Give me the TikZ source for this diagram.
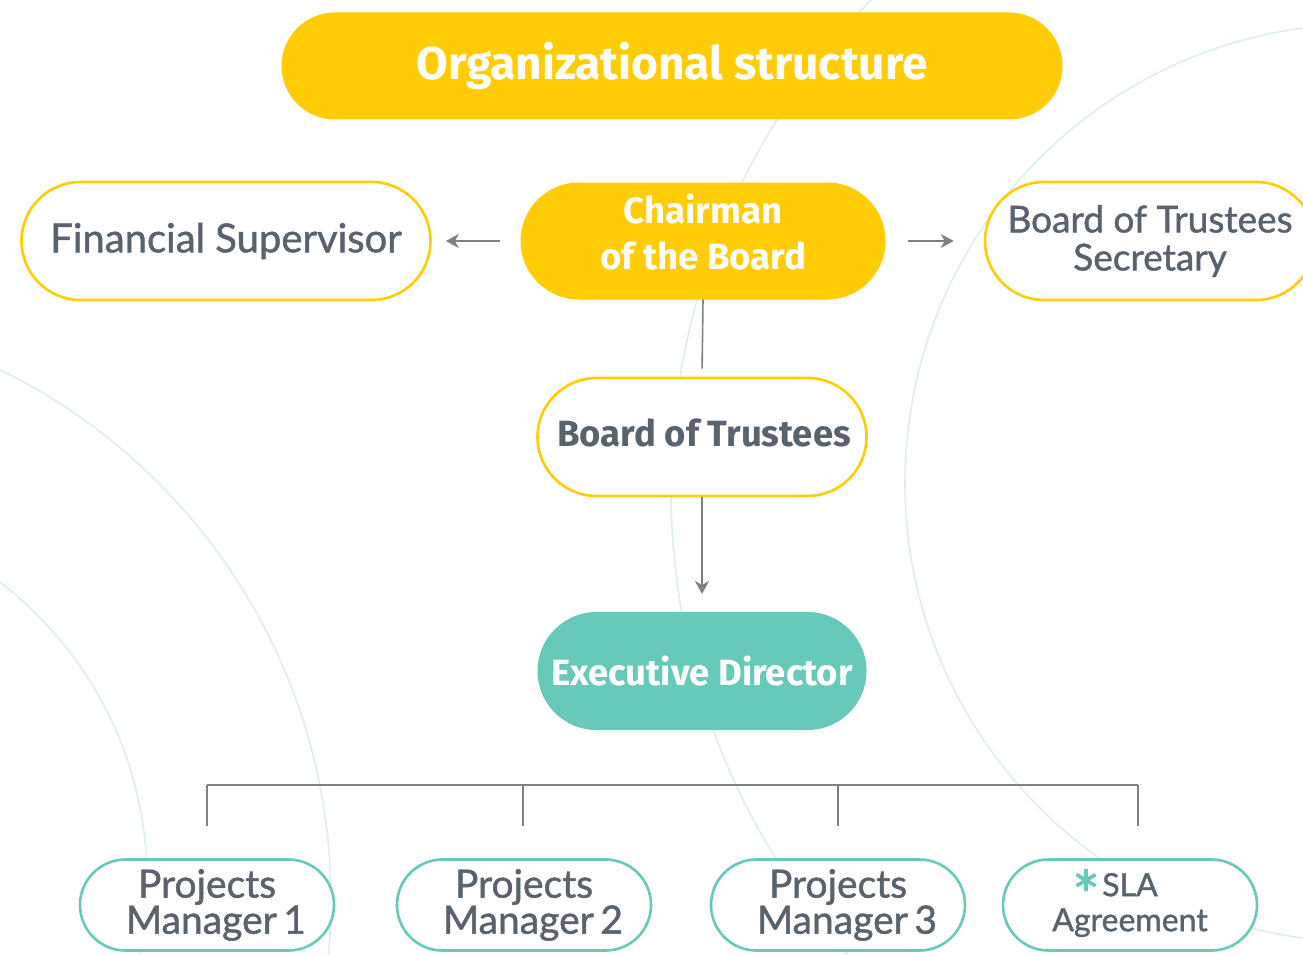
\documentclass[tikz,border=0pt]{standalone}
\usepackage{fontspec}
\setmainfont{Lato}[FakeBold=1.2]
\newfontfamily\fira{Fira Sans}
\usetikzlibrary{shapes.misc,arrows.meta}
\definecolor{ylw}{HTML}{FFCC05}
\definecolor{tealc}{HTML}{67C9B9}
\definecolor{txtg}{HTML}{58636E}
\definecolor{lineg}{HTML}{808080}
\definecolor{arcc}{HTML}{DAF1EB}
\tikzset{
  pill/.style={rounded rectangle, inner sep=0pt, align=center},
  yfill/.style={pill, fill=ylw, draw=ylw, line width=1pt, text=white},
  yline/.style={pill, fill=white, draw=ylw, line width=2.6pt, text=txtg},
  tfill/.style={pill, fill=tealc, draw=tealc, line width=1pt, text=white},
  tline/.style={pill, fill=white, draw=tealc, line width=2.6pt, text=txtg,
    minimum width=254pt, minimum height=91pt},
  bold/.style={font=\fira\bfseries\fontsize{36.5}{46}\selectfont},
  conn/.style={draw=lineg, line width=1.6pt},
  arr/.style={conn, -{Stealth[length=13pt,width=14pt,inset=4pt]}},
  bgarc/.style={draw=arcc, line width=1.6pt}
}
\begin{document}
\begin{tikzpicture}[x=1pt,y=-1pt]
\useasboundingbox (0,0) rectangle (1303,955);
\fill[white] (0,0) rectangle (1303,955);
\begin{scope}
  \clip (0,0) rectangle (1303,955);
  \draw[bgarc] (1364,483) circle[radius=459pt];
  \draw[bgarc] (1371,490) circle[radius=700pt];
  \draw[bgarc] (-259,900) circle[radius=590pt];
  \draw[bgarc] (-228,880) circle[radius=375pt];
\end{scope}

\node[yfill, minimum width=780pt, minimum height=106pt,
  font=\fira\bfseries\fontsize{46}{50}\selectfont] (title) at (672,66) {Organizational structure};

\node[yfill, minimum width=364pt, minimum height=116pt] (chair) at (703,241) {};
\node[bold, text=white, align=center, inner sep=0pt] (chairtxt) at (703,232) {Chairman\\of the Board};

\node[yline, minimum width=409pt, minimum height=118pt,
  font=\fontsize{40}{44}\selectfont] (fin) at (226,241) {Financial Supervisor};

\node[yline, minimum width=330pt, minimum height=118pt,
  font=\fontsize{37}{38}\selectfont] (sec) at (1150,241) {Board of Trustees\\Secretary};

\node[yline, minimum width=329pt, minimum height=118pt] (board) at (702,437) {};
\node[bold, text=txtg, inner sep=0pt] (boardtxt) at (704,433) {Board of Trustees};

\node[tfill, bold, minimum width=328pt, minimum height=117pt] (exec) at (702,671) {Executive Director};

\node[tline, font=\fontsize{39}{36}\selectfont] (pm1) at (207,905) {Projects\\\hspace*{18pt}Manager\,1};
\node[tline, font=\fontsize{39}{36}\selectfont] (pm2) at (524,905) {Projects\\\hspace*{18pt}Manager\,2};
\node[tline, font=\fontsize{39}{36}\selectfont] (pm3) at (838,905) {Projects\\\hspace*{18pt}Manager\,3};
\node[tline, font=\fontsize{32}{35}\selectfont] (sla) at (1130,905) {SLA\\Agreement};
\node[inner sep=0pt, text=tealc, font=\fontsize{66}{66}\selectfont] (slastar) at (1086,881) {\smash{\raisebox{-0.58em}{*}}};

% connectors
\draw[arr, shorten <=21pt, shorten >=14pt] (chair.west) -- (fin.east);
\draw[arr, shorten <=22pt, shorten >=30pt] (chair.east) -- (sec.west);
\draw[conn, shorten >=8pt] (chair.south) -- (board.north);
\draw[arr, shorten >=18pt] (board.south) -- (exec.north);

\coordinate (b1) at (207,785);
\coordinate (b2) at (523,785);
\coordinate (b3) at (838,785);
\coordinate (b4) at (1138,785);
\draw[conn] (b1) -- (b4);
\draw[conn, shorten >=32pt] (b1) -- (b1 |- pm1.north);
\draw[conn, shorten >=32pt] (b2) -- (b2 |- pm2.north);
\draw[conn, shorten >=32pt] (b3) -- (b3 |- pm3.north);
\draw[conn, shorten >=32pt] (b4) -- (b4 |- sla.north);
\end{tikzpicture}
\end{document}
